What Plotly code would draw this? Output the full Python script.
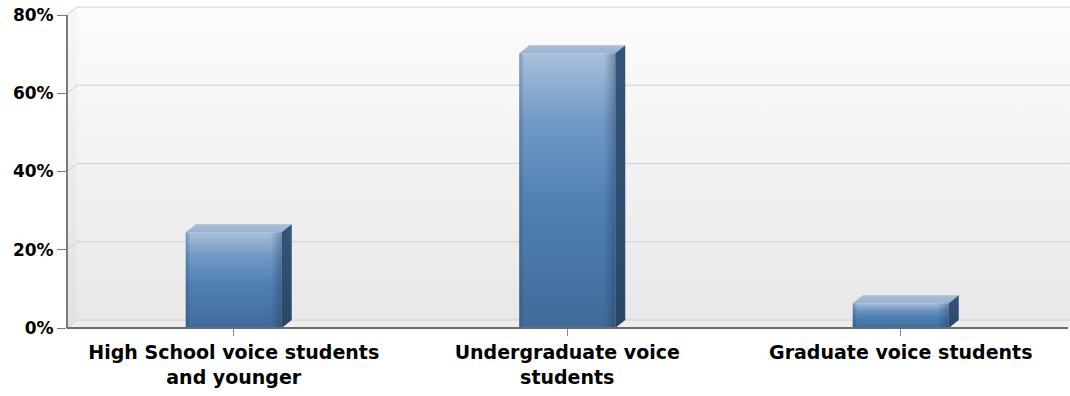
import plotly.graph_objects as go

# Survey shares per student group (percent)
categories = [
    "High School voice students<br>and younger",
    "Undergraduate voice<br>students",
    "Graduate voice students",
]
shares = [24.5, 70.2, 6.3]
y_ticks = [0, 20, 40, 60, 80]
y_tick_labels = ["0%", "20%", "40%", "60%", "80%"]

# Canvas and plot geometry
W, H = 1070, 396
ML, MR, MT, MB = 67, 0, 0, 68
plot_w = W - ML - MR
plot_h = H - MT - MB
CAT_PX = 333.5          # pixels per category band
UNIT_PX = 3.9125        # pixels per percent
x_lo = -0.5
x_hi = x_lo + plot_w / CAT_PX
y_hi = plot_h / UNIT_PX
DX = 10 / CAT_PX        # depth offset (horizontal)
DY = 8 / UNIT_PX        # depth offset (vertical)
HALF = 48 / CAT_PX      # half bar width
Y_MAX = y_ticks[-1]

FONT = "DejaVu Sans"

fig = go.Figure()


def poly(xs, ys, **kw):
    fig.add_trace(go.Scatter(
        x=list(xs) + [xs[0]], y=list(ys) + [ys[0]],
        mode="lines", fill="toself", line=dict(width=0),
        hoverinfo="skip", showlegend=False, **kw))


def vgrad(c_bottom, c_top, mid=None):
    scale = [[0, c_bottom]]
    if mid:
        scale += mid
    scale += [[1, c_top]]
    return dict(type="vertical", colorscale=scale)


# Back wall
poly([x_lo + DX, x_hi, x_hi, x_lo + DX],
     [DY, DY, Y_MAX + DY, Y_MAX + DY],
     fillgradient=vgrad("#e8e8e8", "#fcfcfc"))
# Left side wall
poly([x_lo, x_lo + DX, x_lo + DX, x_lo],
     [0, DY, Y_MAX + DY, Y_MAX],
     fillgradient=vgrad("#e2e2e2", "#f7f7f7"))
# Floor
poly([x_lo, x_lo + DX, x_hi, x_hi],
     [0, DY, DY, 0], fillcolor="#ededed")

# Gridlines on walls
for t in y_ticks:
    fig.add_trace(go.Scatter(
        x=[x_lo, x_lo + DX, x_hi], y=[t, t + DY, t + DY],
        mode="lines", line=dict(color="#cfcfcf", width=1),
        hoverinfo="skip", showlegend=False))

# 3D bars
front_scale = [[0, "#3f6b99"], [0.45, "#4f80b4"], [0.75, "#7199c5"], [1, "#a9c0da"]]
for i, v in enumerate(shares):
    x0, x1 = i - HALF, i + HALF
    # front face
    poly([x0, x1, x1, x0], [0, 0, v, v],
         fillgradient=dict(type="vertical", colorscale=front_scale))
    # edge shading on front face
    poly([x0, x1, x1, x0], [0, 0, v, v],
         fillgradient=dict(type="horizontal", colorscale=[
             [0, "rgba(30,55,90,0.30)"], [0.05, "rgba(30,55,90,0)"],
             [0.88, "rgba(30,55,90,0)"], [1, "rgba(20,40,70,0.35)"]]))
    # top face
    poly([x0, x0 + DX, x1 + DX, x1], [v, v + DY, v + DY, v],
         fillgradient=vgrad("#9ab3d1", "#a7bdd8"))
    # side face
    poly([x1, x1 + DX, x1 + DX, x1], [0, DY, v + DY, v],
         fillgradient=vgrad("#2a4665", "#34557a"))

# Axis lines (front plane)
y_frac_top = Y_MAX / y_hi
fig.add_shape(type="line", xref="paper", yref="paper",
              x0=0, x1=0, y0=0, y1=y_frac_top,
              line=dict(color="#7a7a7a", width=2))
x_frac_end = (1001 / CAT_PX) / (x_hi - x_lo)
fig.add_shape(type="line", xref="paper", yref="paper",
              x0=0, x1=x_frac_end, y0=0, y1=0,
              line=dict(color="#6c6c6c", width=2))

fig.update_layout(
    width=W, height=H,
    margin=dict(l=ML, r=MR, t=MT, b=MB, pad=0),
    paper_bgcolor="white", plot_bgcolor="white",
    showlegend=False,
    xaxis=dict(
        range=[x_lo, x_hi], tickmode="array",
        tickvals=list(range(len(categories))), ticktext=categories,
        ticks="outside", ticklen=7, tickcolor="#8a8a8a", tickwidth=1,
        showgrid=False, zeroline=False, showline=False, fixedrange=True,
        tickfont=dict(family=FONT, size=19, color="#000000", weight="bold"),
    ),
    yaxis=dict(
        range=[0, y_hi], tickmode="array",
        tickvals=y_ticks, ticktext=y_tick_labels,
        ticks="outside", ticklen=9, tickcolor="#7a7a7a", tickwidth=1,
        showgrid=False, zeroline=False, showline=False, fixedrange=True,
        tickfont=dict(family=FONT, size=17, color="#000000", weight="bold"),
    ),
)

fig.write_html("out.html")
